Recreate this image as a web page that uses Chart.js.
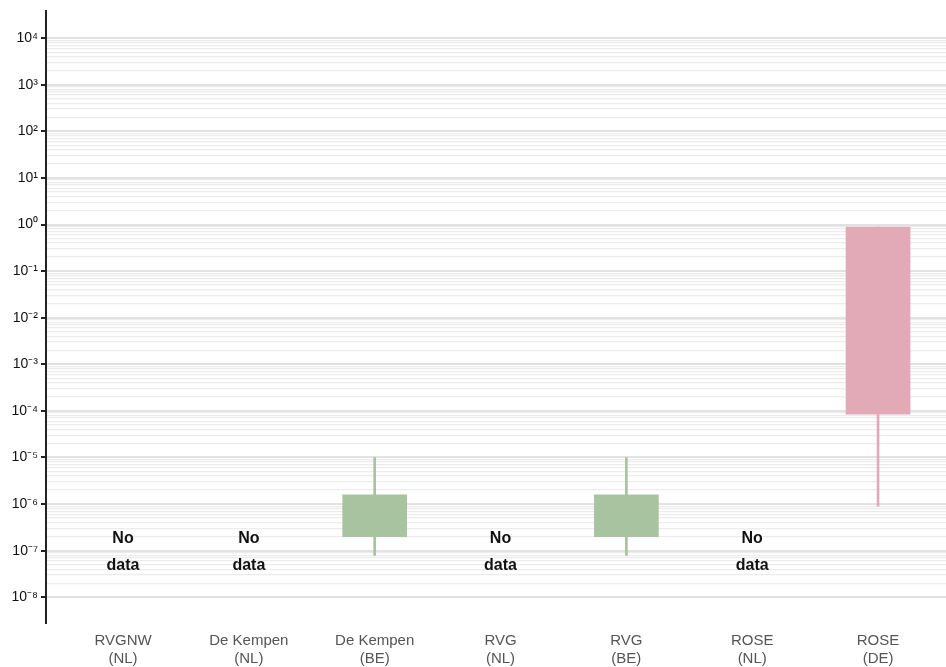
<!DOCTYPE html>
<html>
<head>
<meta charset="UTF-8">
<title>Box chart</title>
<script src="https://cdn.jsdelivr.net/npm/chart.js"></script>
<style>
    body { margin: 0; background: #fff; }
    canvas { display: block; }
</style>
</head>
<body>
<canvas id="boxChart" width="946" height="667"></canvas>
<script>
    // categories (two-line labels) and values
    const categories = [
        ["RVGNW", "(NL)"], ["De Kempen", "(NL)"], ["De Kempen", "(BE)"],
        ["RVG", "(NL)"], ["RVG", "(BE)"], ["ROSE", "(NL)"], ["ROSE", "(DE)"]
    ];
    const boxLow      = [null, null, 2.0e-7, null, 2.0e-7, null, 8.5e-5];
    const boxHigh     = [null, null, 1.58e-6, null, 1.58e-6, null, 0.88];
    const whiskerLow  = [null, null, 7.9e-8, null, 7.9e-8, null, 9.0e-7];
    const whiskerHigh = [null, null, 1.0e-5, null, 1.0e-5, null, 0.88];
    const boxColors   = [null, null, "#a7c39f", null, "#a7c39f", null, "#e2aab6"];
    const noDataText  = ["No", "data"];
    const noDataAt    = 1e-7;
    const decades     = [-8, -7, -6, -5, -4, -3, -2, -1, 0, 1, 2, 3, 4];
    const yMin = 2.8e-9, yMax = 3.75e4;

    const sup = { "-": "\u207B", "0": "\u2070", "1": "\u00B9", "2": "\u00B2", "3": "\u00B3",
        "4": "\u2074", "5": "\u2075", "6": "\u2076", "7": "\u2077", "8": "\u2078", "9": "\u2079" };
    const isDecade = v => Math.abs(Math.log10(v) - Math.round(Math.log10(v))) < 1e-9;

    function floating(lo, hi) {
        const out = [];
        categories.forEach((c, i) => {
            if (lo[i] !== null) out.push({ x: i, y: [lo[i], hi[i]] });
        });
        return out;
    }
    const colorsFor = () => categories.map((c, i) => boxColors[i]).filter(c => c !== null);

    const noDataPlugin = {
        id: "noData",
        afterDatasetsDraw(chart) {
            const ctx = chart.ctx;
            const xs = chart.scales.x, ys = chart.scales.y;
            ctx.save();
            ctx.font = "bold 16px 'Liberation Sans', Arial, sans-serif";
            ctx.fillStyle = "#111";
            ctx.textAlign = "center";
            ctx.textBaseline = "middle";
            categories.forEach((c, i) => {
                if (boxLow[i] !== null) return;
                const x = xs.getPixelForValue(i);
                const y = ys.getPixelForValue(noDataAt);
                ctx.fillText(noDataText[0], x, y - 12);
                ctx.fillText(noDataText[1], x, y + 15);
            });
            ctx.restore();
        }
    };

    new Chart(document.getElementById("boxChart"), {
        type: "bar",
        data: {
            datasets: [{
                data: floating(boxLow, boxHigh),
                backgroundColor: colorsFor(),
                barThickness: 64,
                grouped: false
            }, {
                data: floating(whiskerLow, whiskerHigh),
                backgroundColor: colorsFor(),
                barThickness: 2,
                grouped: false
            }]
        },
        options: {
            responsive: false,
            animation: false,
            layout: { padding: { top: 8, right: 0, left: 0, bottom: 0 } },
            plugins: { legend: { display: false }, tooltip: { enabled: false } },
            scales: {
                x: {
                    type: "linear",
                    offset: false,
                    min: -0.612,
                    max: 6.54,
                    afterBuildTicks: s => { s.ticks = categories.map((c, i) => ({ value: i })); },
                    afterFit: s => { s.height = 44; },
                    grid: { display: false },
                    border: { display: false },
                    ticks: {
                        autoSkip: false,
                        maxRotation: 0,
                        padding: 1,
                        color: "#555",
                        font: { family: "'Liberation Sans', Arial, sans-serif", size: 15, lineHeight: 1.2 },
                        callback: v => categories[v]
                    }
                },
                y: {
                    type: "logarithmic",
                    min: yMin,
                    max: yMax,
                    afterBuildTicks: s => {
                        const t = [];
                        decades.forEach(e => {
                            const last = e === decades[decades.length - 1] ? 1 : 9;
                            for (let m = 1; m <= last; m++) t.push({ value: m * Math.pow(10, e) });
                        });
                        s.ticks = t;
                    },
                    afterFit: s => { s.width = 46; },
                    border: { display: true, color: "#222", width: 2 },
                    grid: {
                        color: c => isDecade(c.tick.value) ? "#e2e2e2" : "#ececec",
                        lineWidth: c => isDecade(c.tick.value) ? 2 : 1.3,
                        tickColor: c => isDecade(c.tick.value) ? "#222" : "rgba(0,0,0,0)",
                        tickWidth: 2,
                        tickLength: 5
                    },
                    ticks: {
                        autoSkip: false,
                        padding: 3,
                        color: "#111",
                        font: { family: "'Liberation Sans', Arial, sans-serif", size: 14 },
                        callback: v => {
                            if (!isDecade(v)) return "";
                            const e = String(Math.round(Math.log10(v)));
                            return "10" + e.split("").map(ch => sup[ch]).join("");
                        }
                    }
                }
            }
        },
        plugins: [noDataPlugin]
    });
</script>
</body>
</html>
